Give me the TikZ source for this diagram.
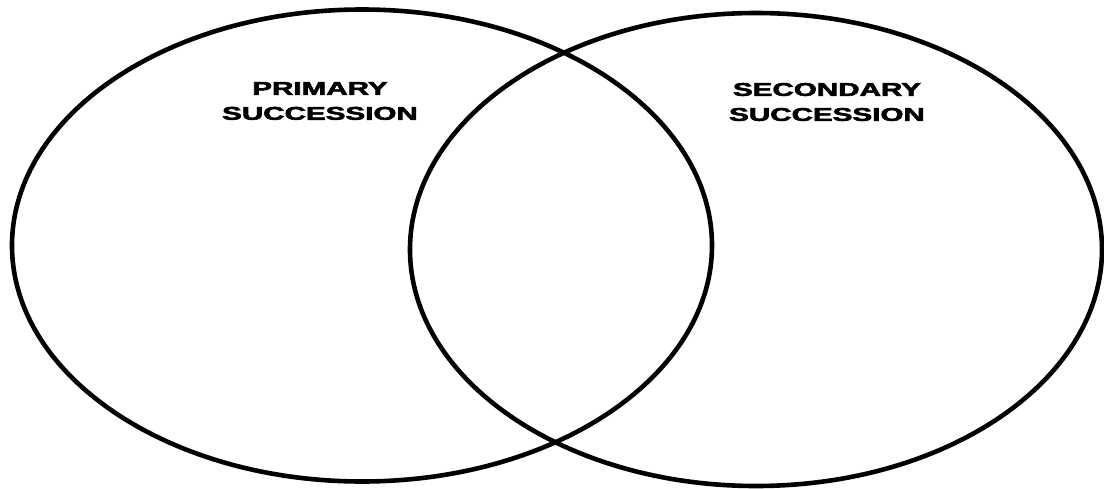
\documentclass[tikz,border=0pt]{standalone}
\usepackage{fontspec}
\setmainfont{Liberation Sans}
\newfontfamily\heavyfont[FakeBold=2.5]{Liberation Sans Bold}
\begin{document}
\begin{tikzpicture}[x=1pt,y=-1pt,
  ring/.style={line width=4.6pt,black},
  label/.style={font=\heavyfont\fontsize{18.5}{25}\selectfont,align=center,inner sep=0pt}]
\useasboundingbox (0,0) rectangle (1104,488);
\fill[white] (0,0) rectangle (1104,488);
\draw[ring] (362,245.5) ellipse [x radius=350, y radius=236];
\draw[ring] (756,249.5) ellipse [x radius=346, y radius=236.5];
\node[label] (prim) at (320,101) {\scalebox{1.6}[1]{PRIMARY}\\\scalebox{1.6}[1]{SUCCESSION}};
\node[label] (sec) at (827,102) {\scalebox{1.6}[1]{SECONDARY}\\\scalebox{1.6}[1]{SUCCESSION}};
\end{tikzpicture}
\end{document}
